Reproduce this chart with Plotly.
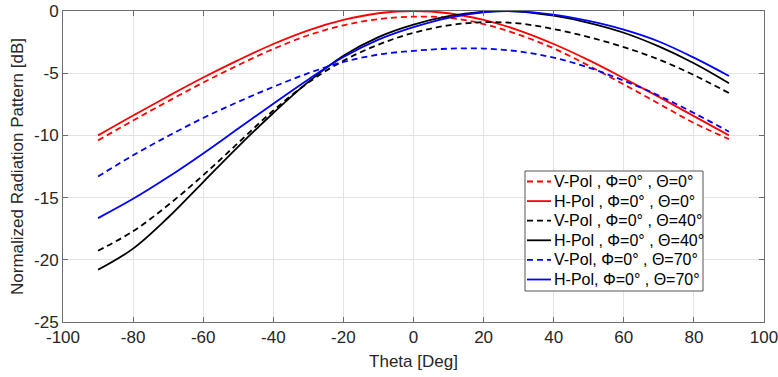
import plotly.graph_objects as go

# ---- data ----
theta = [-90, -80, -70, -60, -50, -40, -30, -20, -10, 0, 10, 20, 30, 40, 50, 60, 70, 80, 90]

v_pol_0 = [-10.4, -8.8, -7.25, -5.75, -4.35, -3.05, -1.95, -1.15, -0.65, -0.45,
           -0.55, -1.05, -1.9, -3.0, -4.4, -5.9, -7.45, -9.0, -10.3]
h_pol_0 = [-10.0, -8.4, -6.85, -5.35, -3.95, -2.65, -1.55, -0.72, -0.18, 0.0,
           -0.18, -0.72, -1.55, -2.65, -3.95, -5.4, -6.9, -8.45, -10.0]
v_pol_40 = [-19.27, -17.7, -15.6, -13.2, -10.6, -8.0, -5.75, -4.0, -2.7, -1.75,
            -1.15, -0.9, -1.0, -1.45, -2.1, -2.9, -3.9, -5.15, -6.6]
h_pol_40 = [-20.8, -19.1, -16.6, -13.75, -10.9, -8.2, -5.7, -3.6, -2.1, -1.1,
            -0.42, -0.06, -0.04, -0.38, -0.95, -1.75, -2.85, -4.2, -5.8]
v_pol_70 = [-13.3, -11.6, -10.05, -8.6, -7.3, -6.1, -5.0, -4.1, -3.5, -3.2,
            -3.03, -3.02, -3.25, -3.75, -4.55, -5.6, -6.8, -8.2, -9.7]
h_pol_70 = [-16.65, -15.1, -13.35, -11.45, -9.45, -7.45, -5.5, -3.7, -2.3, -1.3,
            -0.55, -0.1, -0.03, -0.3, -0.8, -1.5, -2.45, -3.75, -5.22]

series_names = [
    "V-Pol , Φ=0° , Θ=0°",
    "H-Pol , Φ=0° , Θ=0°",
    "V-Pol , Φ=0° , Θ=40°",
    "H-Pol , Φ=0° , Θ=40°",
    "V-Pol, Φ=0° , Θ=70°",
    "H-Pol, Φ=0° , Θ=70°",
]
series_values = [v_pol_0, h_pol_0, v_pol_40, h_pol_40, v_pol_70, h_pol_70]
series_colors = ["#ff0000", "#ff0000", "#000000", "#000000", "#0000ff", "#0000ff"]
series_dash = ["6px,4px", "solid", "6px,4px", "solid", "6px,4px", "solid"]

x_ticks = [-100, -80, -60, -40, -20, 0, 20, 40, 60, 80, 100]
x_tick_labels = ["-100", "-80", "-60", "-40", "-20", "0", "20", "40", "60", "80", "100"]
y_ticks = [-25, -20, -15, -10, -5, 0]
y_tick_labels = ["-25", "-20", "-15", "-10", "-5", "0"]

FONT = "Liberation Sans, Arial, sans-serif"
TXT = "#262626"
AX = "#6e6e6e"

W, H = 778, 377
ML, MR, MT, MB = 63, 14, 11, 55
PW, PH = W - ML - MR, H - MT - MB


def px_to_paper(px, py):
    return (px - ML) / PW, 1 - (py - MT) / PH


fig = go.Figure()
for name, vals, col, dash in zip(series_names, series_values, series_colors, series_dash):
    fig.add_trace(go.Scatter(
        x=theta, y=vals, name=name, mode="lines", showlegend=False,
        line=dict(color=col, width=1.8, dash=dash, shape="spline", smoothing=1.0),
    ))

# ---- legend box drawn like the MATLAB legend ----
box_l, box_r, box_t, box_b = 525, 703, 171, 291
x0, y0 = px_to_paper(box_l, box_b)
x1, y1 = px_to_paper(box_r, box_t)
fig.add_shape(type="rect", xref="paper", yref="paper", x0=x0, y0=y0, x1=x1, y1=y1,
              line=dict(color="#555555", width=1), fillcolor="white", layer="above")
row_h = 19.6
for i, (name, col, dash) in enumerate(zip(series_names, series_colors, series_dash)):
    cy = 181.5 + i * row_h
    lx0, ly = px_to_paper(527, cy)
    lx1, _ = px_to_paper(551, cy)
    fig.add_shape(type="line", xref="paper", yref="paper", x0=lx0, x1=lx1, y0=ly, y1=ly,
                  line=dict(color=col, width=1.8, dash=dash), layer="above")
    tx, _ = px_to_paper(552, cy)
    fig.add_annotation(xref="paper", yref="paper", x=tx, y=ly, text=name, showarrow=False,
                       xanchor="left", yanchor="middle",
                       font=dict(family=FONT, size=16, color="#000000"))

fig.update_layout(
    width=W, height=H,
    margin=dict(l=ML, r=MR, t=MT, b=MB),
    paper_bgcolor="white", plot_bgcolor="white",
    font=dict(family=FONT, size=17, color=TXT),
    showlegend=False,
)
fig.update_xaxes(
    range=[-100, 100], tickvals=x_ticks, ticktext=x_tick_labels,
    automargin=False, ticklabeloverflow="allow",
    showgrid=True, gridcolor="#e3e3e3", gridwidth=1,
    showline=True, linecolor=AX, linewidth=1, mirror="ticks",
    ticks="inside", ticklen=5, tickcolor=AX,
    zeroline=False,
    title=dict(text="Theta [Deg]", font=dict(size=17, color=TXT), standoff=8),
    tickfont=dict(size=17, color=TXT),
)
fig.update_yaxes(
    range=[-25, 0], tickvals=y_ticks, ticktext=y_tick_labels,
    automargin=False, ticklabeloverflow="allow",
    showgrid=True, gridcolor="#e3e3e3", gridwidth=1,
    showline=True, linecolor=AX, linewidth=1, mirror="ticks",
    ticks="inside", ticklen=5, tickcolor=AX,
    zeroline=False,
    title=dict(text="Normalized Radiation Pattern [dB]", font=dict(size=17, color=TXT), standoff=6),
    tickfont=dict(size=17, color=TXT),
)

fig.write_html(
    "out.html",
    config={"displayModeBar": False},
    post_script="document.body.style.margin='0';document.body.style.overflow='hidden';",
)
